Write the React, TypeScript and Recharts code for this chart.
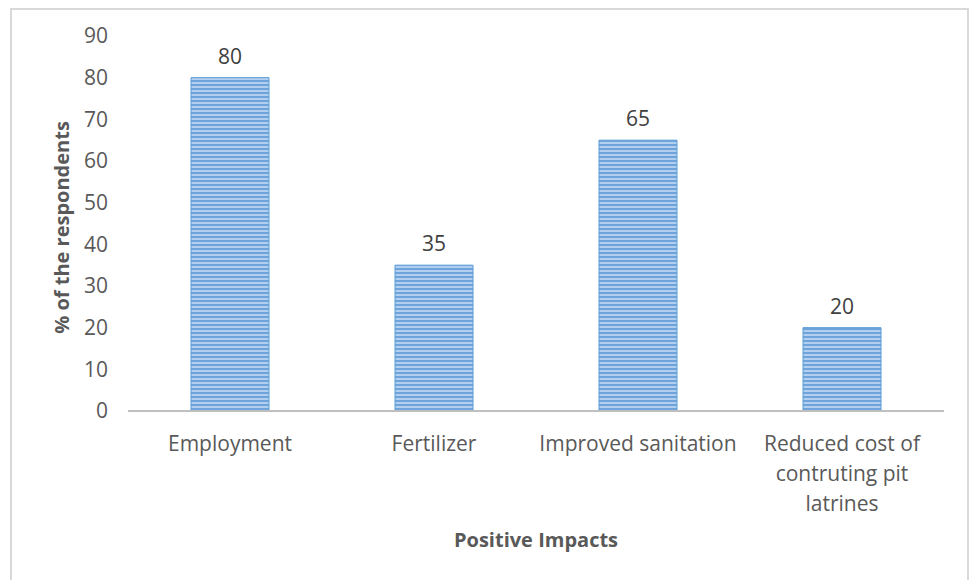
import React from 'react';
import { BarChart, Bar, XAxis, YAxis, LabelList } from 'recharts';

const categories = ['Employment', 'Fertilizer', 'Improved sanitation', 'Reduced cost of contruting pit latrines'];
const values = [80, 35, 65, 20];
const yTicks = [0, 10, 20, 30, 40, 50, 60, 70, 80, 90];

const data = categories.map((name, i) => ({ name, value: values[i] }));

const FONT = '"Open Sans", Calibri, sans-serif';
const TEXT = '#595959';
const TICK_SIZE = 21;
const WRAP_WIDTH = 204;

let ctx: CanvasRenderingContext2D | null = null;
const measure = (s: string) => {
  if (!ctx) {
    const c = document.createElement('canvas');
    ctx = c.getContext('2d');
  }
  if (!ctx) return s.length * TICK_SIZE * 0.5;
  ctx.font = `${TICK_SIZE}px "Open Sans"`;
  return ctx.measureText(s).width;
};

const wrap = (text: string) => {
  const words = text.split(' ');
  const lines: string[] = [];
  let cur = '';
  words.forEach((w) => {
    const next = cur ? cur + ' ' + w : w;
    if (cur && measure(next) > WRAP_WIDTH) {
      lines.push(cur);
      cur = w;
    } else {
      cur = next;
    }
  });
  if (cur) lines.push(cur);
  return lines;
};

const XTick = (props: any) => {
  const { x, y, payload } = props;
  const lines = wrap(String(payload.value));
  return (
    <text x={x} y={y + 17} textAnchor="middle" fill={TEXT} fontSize={TICK_SIZE} fontFamily={FONT}>
      {lines.map((l, i) => (
        <tspan key={i} x={x} dy={i === 0 ? '0.71em' : 30}>
          {l}
        </tspan>
      ))}
    </text>
  );
};

export default function App() {
  return (
    <div style={{ position: 'absolute', left: 0, top: 0, width: 971, height: 580, background: '#fff', overflow: 'hidden' }}>
      <div style={{ position: 'absolute', left: 10, top: 8, width: 959, height: 620, border: '2px solid #d9d9d9', boxSizing: 'border-box' }} />
      <BarChart
        width={971}
        height={580}
        data={data}
        margin={{ top: 36, right: 27, left: 0, bottom: 0 }}
        style={{ position: 'absolute', left: 0, top: 0 }}
      >
        <defs>
          <pattern id="stripes" patternUnits="userSpaceOnUse" width="8" height="4">
            <rect x="0" y="0" width="8" height="4" fill="#b3cfef" />
            <rect x="0" y="0" width="8" height="2" fill="#6fa3dc" />
          </pattern>
        </defs>
        <XAxis
          dataKey="name"
          height={169}
          interval={0}
          tickLine={false}
          axisLine={{ stroke: '#bfbfbf', strokeWidth: 2 }}
          tick={<XTick />}
          label={{ value: 'Positive Impacts', position: 'insideBottom', offset: 33, fill: TEXT, fontSize: 20, fontWeight: 700, fontFamily: FONT }}
        />
        <YAxis
          width={128}
          domain={[0, 90]}
          ticks={yTicks}
          interval={0}
          axisLine={false}
          tickLine={false}
          tickSize={0}
          tickMargin={20}
          tick={{ fill: TEXT, fontSize: 21, fontFamily: FONT }}
          label={{ value: '% of the respondents', angle: -90, position: 'center', dx: -2, dy: 4, fill: TEXT, fontSize: 20, fontWeight: 700, fontFamily: FONT }}
        />
        <Bar dataKey="value" barSize={78} fill="url(#stripes)" stroke="#5b9bd5" strokeWidth={1} isAnimationActive={false}>
          <LabelList dataKey="value" position="top" offset={14} fill="#404040" fontSize={21} fontFamily={FONT} />
        </Bar>
      </BarChart>
    </div>
  );
}
